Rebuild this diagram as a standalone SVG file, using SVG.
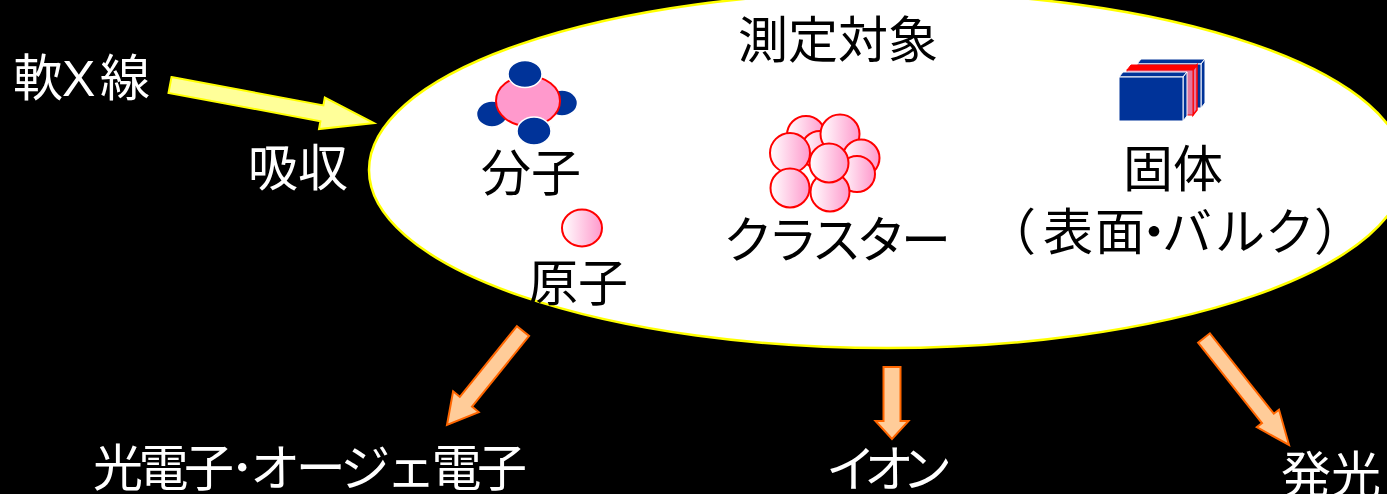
<svg xmlns="http://www.w3.org/2000/svg" width="1387" height="494" viewBox="0 0 1387 494">
  <defs>
    <linearGradient id="pinkBall" x1="0" y1="0" x2="1" y2="0">
      <stop offset="0" stop-color="#FFFFFF"/>
      <stop offset="1" stop-color="#FF99CC"/>
    </linearGradient>
    <style>
      .lbl { font-family: "Noto Sans CJK JP", "Noto Sans", sans-serif; font-size: 50px; }
      .latin { font-family: "Liberation Sans", Arial, sans-serif; }
      .dark { fill: #000000; }
      .light { fill: #FFFFFF; }
      .ball { fill: url(#pinkBall); stroke: #FF0000; stroke-width: 2; }
      .sat { fill: #003399; stroke: #FFFFFF; stroke-width: 1.5; }
      .slab { fill: #003399; stroke: #FFFFFF; stroke-width: 1; }
      .out { fill: #FFCC99; stroke: #FF6600; stroke-width: 2; stroke-linejoin: miter; }
      .in { fill: #FFFF99; stroke: #FFFF00; stroke-width: 2; }
    </style>
  </defs>

  <rect x="0" y="0" width="1387" height="494" fill="#000000"/>

  <!-- sample region -->
  <g id="target">
    <ellipse cx="887" cy="170" rx="518" ry="178" fill="#FFFFFF" stroke="#FFFF00" stroke-width="2.5"/>
    <text class="lbl dark" x="738" y="58">測定対象</text>
  </g>

  <!-- molecule -->
  <g id="molecule">
    <ellipse class="sat" cx="492" cy="114" rx="15.5" ry="13"/>
    <ellipse class="sat" cx="562" cy="103" rx="15.5" ry="13"/>
    <ellipse cx="528" cy="101" rx="32" ry="25" fill="#FF99CC" stroke="#FF0000" stroke-width="2"/>
    <ellipse class="sat" cx="525" cy="74" rx="17" ry="13.5"/>
    <ellipse class="sat" cx="534" cy="131" rx="17" ry="14"/>
    <text class="lbl dark" x="481" y="191">分子</text>
  </g>

  <!-- atom -->
  <g id="atom">
    <ellipse class="ball" cx="582" cy="228" rx="20" ry="18.5"/>
    <text class="lbl dark" x="528" y="301">原子</text>
  </g>

  <!-- cluster -->
  <g id="cluster">
    <circle class="ball" cx="806" cy="135" r="19"/>
    <circle class="ball" cx="820" cy="150" r="19"/>
    <circle class="ball" cx="840" cy="134" r="19.5"/>
    <circle class="ball" cx="861" cy="158" r="18.5"/>
    <circle class="ball" cx="857" cy="174" r="18"/>
    <circle class="ball" cx="790" cy="153" r="20"/>
    <circle class="ball" cx="790" cy="188" r="19.5"/>
    <circle class="ball" cx="830" cy="192" r="19.5"/>
    <circle class="ball" cx="829" cy="163" r="19.5"/>
    <text class="lbl dark" x="723" y="258" textLength="228" lengthAdjust="spacing">クラスター</text>
  </g>

  <!-- solid -->
  <g id="solid">
    <!-- back slab -->
    <polygon class="slab" points="1137,64 1141,59 1205,59 1201,64"/>
    <polygon class="slab" points="1201,64 1205,59 1205,103 1201,108"/>
    <rect class="slab" x="1137" y="64" width="64" height="44"/>
    <!-- middle slab -->
    <polygon points="1127,70 1131,65 1197,65 1193,70" fill="#FF0000" stroke="#FF0000" stroke-width="1"/>
    <polygon points="1193,70 1197,65 1197,110 1193,115" fill="#E0779E" stroke="#FF0000" stroke-width="1.5"/>
    <rect x="1127" y="70" width="66" height="45" fill="#E0779E" stroke="#FF0000" stroke-width="1"/>
    <!-- front slab -->
    <polygon class="slab" points="1119,77 1123,72 1187,72 1183,77"/>
    <polygon class="slab" points="1183,77 1187,72 1187,116 1183,121"/>
    <rect class="slab" x="1119" y="77" width="64" height="44"/>
    <text class="lbl dark" x="1123" y="187">固体</text>
    <text class="lbl dark" x="986 1043 1095 1129 1162 1215 1265 1314" y="250">（表面・バルク）</text>
  </g>

  <!-- incoming soft X-ray -->
  <g id="xray">
    <text class="lbl light" x="13" y="96" font-size="48">軟<tspan class="latin" x="62" font-size="50">X</tspan><tspan x="100">線</tspan></text>
    <text class="lbl light" x="248" y="186" font-size="52">吸収</text>
  </g>

  <!-- products -->
  <g id="electrons">
    <text class="lbl light" x="93" y="486" textLength="434" lengthAdjust="spacing">光電子･オージェ電子</text>
  </g>
  <g id="ions">
    <text class="lbl light" x="826" y="487" textLength="126" lengthAdjust="spacing">イオン</text>
  </g>
  <g id="emission">
    <text class="lbl light" x="1281" y="493">発光</text>
  </g>

  <!-- connectors -->
  <g id="connectors">
    <polygon class="in" points="171.5,77.1 323.4,105.4 324.8,97.6 374,123 319,129 320.4,121.2 168.5,92.9"/>
    <polygon class="out" points="516.9,326.1 459.8,396.8 453.1,391.3 447,425 478.7,412.1 472,406.6 529.1,335.9"/>
    <polygon class="out" points="883.5,367 900.5,367 900.5,421 908.5,421 892,439 875.5,421 883.5,421"/>
    <polygon class="out" points="1198.1,342.7 1262,423.1 1256.8,427.2 1289,445 1279,409.6 1273.8,413.7 1209.9,333.3"/>
  </g>
</svg>
